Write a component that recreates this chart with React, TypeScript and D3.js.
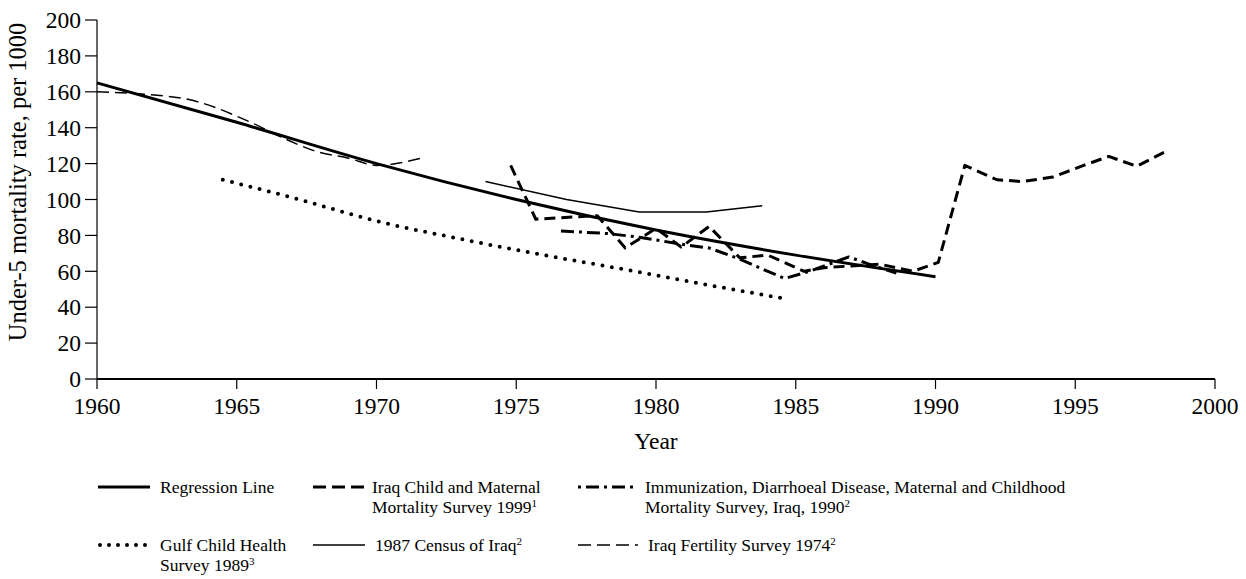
import React from "react";
import * as d3 from "d3";

const xTicks = [1960, 1965, 1970, 1975, 1980, 1985, 1990, 1995, 2000];
const yTicks = [0, 20, 40, 60, 80, 100, 120, 140, 160, 180, 200];

const regressionYears = [1960, 1965, 1970, 1975, 1980, 1985, 1990];
const regressionValues = [165, 143, 120, 100, 83, 69, 57];

const fertilityYears = [1960, 1963, 1965.5, 1966.7, 1967.9, 1969, 1970, 1971.6];
const fertilityValues = [160, 156.5, 143, 134, 126.5, 123, 119, 123];

const gulfYears = [1964.5, 1967, 1970, 1973.2, 1976, 1979, 1982, 1984.7];
const gulfValues = [111, 101, 88, 77.4, 69, 60.7, 52, 44.5];

const censusYears = [1973.9, 1976.8, 1979.4, 1981.8, 1983.8];
const censusValues = [110, 100, 93, 93, 96.5];

const icmmsYears = [1974.8, 1975.7, 1977.9, 1978.9, 1980, 1980.9, 1981.9, 1983, 1984, 1985.3, 1986, 1987, 1988, 1989.2, 1990.1, 1991.05, 1992.2, 1993.1, 1994.2, 1995.3, 1996.2, 1997.2, 1998.2];
const icmmsValues = [119, 89, 91, 73, 84, 73.5, 85, 67.5, 69, 60, 62, 63, 64, 60, 65, 119, 111, 110, 112.5, 119, 124, 118.5, 126.5];

const immunYears = [1976.6, 1978.3, 1979.4, 1981.1, 1981.9, 1982.9, 1984.6, 1985.5, 1986.9, 1987.8, 1988.6];
const immunValues = [82.5, 81, 79, 74.6, 73, 67.4, 56, 60, 68, 63, 59];

const FONT = "'Liberation Serif', 'Times New Roman', serif";

const M = { left: 97, right: 1215, top: 20, bottom: 379 };

const x = d3.scaleLinear().domain([1960, 2000]).range([M.left, M.right]);
const y = d3.scaleLinear().domain([0, 200]).range([M.bottom, M.top]);

function zip(xs: number[], ys: number[]): [number, number][] {
  return xs.map((v, i) => [v, ys[i]]);
}

const lineGen = d3
  .line<[number, number]>()
  .x((d) => x(d[0]))
  .y((d) => y(d[1]));

const smoothGen = d3
  .line<[number, number]>()
  .x((d) => x(d[0]))
  .y((d) => y(d[1]))
  .curve(d3.curveMonotoneX);

type Style = { sw: number; dash?: string; cap?: "butt" | "round" };

const styles: Record<string, Style> = {
  regression: { sw: 3 },
  icmms: { sw: 3, dash: "11 6" },
  immun: { sw: 3, dash: "13 5 3 5" },
  gulf: { sw: 4, dash: "0 9.5", cap: "round" },
  census: { sw: 1.5 },
  fertility: { sw: 1.5, dash: "12 6" },
};

const legendDash: Record<string, string | undefined> = {
  regression: undefined,
  icmms: "13 6",
  immun: "3 5 13 5",
  gulf: "0 9",
  census: undefined,
  fertility: "13 6",
};

const TICK_FS = 23.5;
const LEG_FS = 17.5;

function Sup({ t }: { t: string }) {
  return (
    <tspan dy={-6} fontSize={11}>
      {t}
    </tspan>
  );
}

export default function App() {
  const legendRows = [
    { key: "regression", sx: 98, sw: 52, tx: 160, y: 487, lines: [["Regression Line", ""]] },
    { key: "icmms", sx: 313, sw: 52, tx: 372, y: 487, lines: [["Iraq Child and Maternal", ""], ["Mortality Survey 1999", "1"]] },
    { key: "immun", sx: 578, sw: 60, tx: 645, y: 487, lines: [["Immunization, Diarrhoeal Disease, Maternal and Childhood", ""], ["Mortality Survey, Iraq, 1990", "2"]] },
    { key: "gulf", sx: 98, sw: 50, tx: 160, y: 545, lines: [["Gulf Child Health", ""], ["Survey 1989", "3"]] },
    { key: "census", sx: 313, sw: 52, tx: 375, y: 545, lines: [["1987 Census of Iraq", "2"]] },
    { key: "fertility", sx: 578, sw: 60, tx: 648, y: 545, lines: [["Iraq Fertility Survey 1974", "2"]] },
  ];

  const series: { key: string; d: string }[] = [
    { key: "fertility", d: smoothGen(zip(fertilityYears, fertilityValues)) || "" },
    { key: "census", d: lineGen(zip(censusYears, censusValues)) || "" },
    { key: "gulf", d: smoothGen(zip(gulfYears, gulfValues)) || "" },
    { key: "immun", d: lineGen(zip(immunYears, immunValues)) || "" },
    { key: "icmms", d: lineGen(zip(icmmsYears, icmmsValues)) || "" },
    { key: "regression", d: smoothGen(zip(regressionYears, regressionValues)) || "" },
  ];

  return (
    <svg
      width={1246}
      height={579}
      style={{ position: "absolute", left: 0, top: 0, background: "#fff" }}
      fontFamily={FONT}
    >
      {/* axes */}
      <line x1={M.left} x2={M.left} y1={M.top} y2={M.bottom} stroke="#000" strokeWidth={1.2} />
      <line x1={M.left} x2={M.right} y1={M.bottom} y2={M.bottom} stroke="#000" strokeWidth={2} />
      {yTicks.map((t) => (
        <g key={"y" + t}>
          <line x1={M.left - 12} x2={M.left} y1={y(t)} y2={y(t)} stroke="#000" strokeWidth={1.2} />
          <text x={M.left - 16} y={y(t)} dy="0.35em" textAnchor="end" fontSize={TICK_FS}>
            {t}
          </text>
        </g>
      ))}
      {xTicks.map((t) => (
        <g key={"x" + t}>
          <line x1={x(t)} x2={x(t)} y1={M.bottom} y2={M.bottom + 10} stroke="#000" strokeWidth={1.2} />
          <text x={x(t)} y={M.bottom + 35} textAnchor="middle" fontSize={TICK_FS}>
            {t}
          </text>
        </g>
      ))}
      <text
        transform={`translate(26,182) rotate(-90)`}
        textAnchor="middle"
        fontSize={24.5}
      >
        Under-5 mortality rate, per 1000
      </text>
      <text x={656} y={449} textAnchor="middle" fontSize={TICK_FS}>
        Year
      </text>

      {/* series */}
      {series.map((s) => {
        const st = styles[s.key];
        return (
          <path
            key={s.key}
            d={s.d}
            fill="none"
            stroke="#000"
            strokeWidth={st.sw}
            strokeDasharray={st.dash}
            strokeLinecap={st.cap || "butt"}
            strokeLinejoin="round"
          />
        );
      })}

      {/* legend */}
      {legendRows.map((r) => {
        const st = styles[r.key];
        return (
          <g key={"lg" + r.key}>
            <line
              x1={r.sx + (st.cap === "round" ? 2 : 0)}
              x2={r.sx + r.sw}
              y1={r.y}
              y2={r.y}
              stroke="#000"
              strokeWidth={st.sw}
              strokeDasharray={legendDash[r.key]}
              strokeLinecap={st.cap || "butt"}
            />
            {r.lines.map((ln, i) => (
              <text key={i} x={r.tx} y={r.y + 6 + i * 20} fontSize={LEG_FS}>
                {ln[0]}
                {ln[1] ? <Sup t={ln[1]} /> : null}
              </text>
            ))}
          </g>
        );
      })}
    </svg>
  );
}
